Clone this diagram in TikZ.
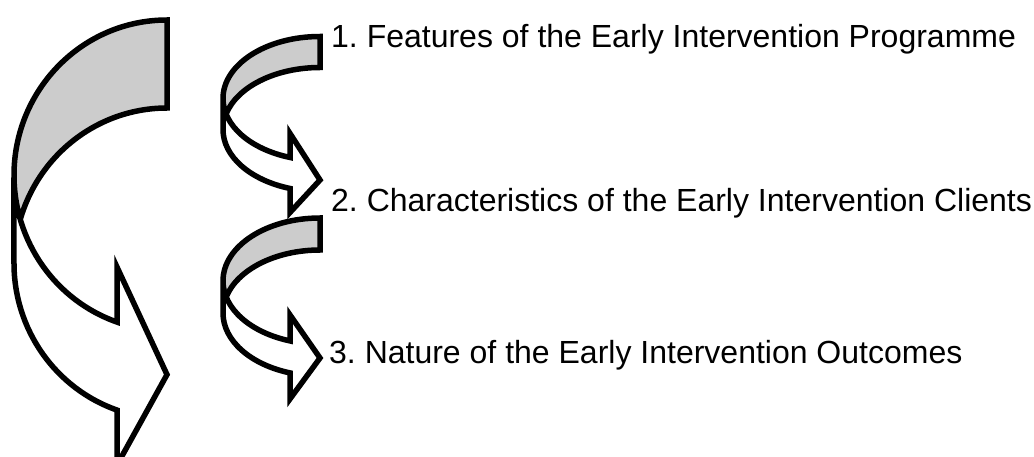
\documentclass[tikz,border=0pt]{standalone}
\usepackage{fontspec}
\setmainfont{Liberation Sans}
\frenchspacing
\definecolor{backgrey}{HTML}{CCCCCC}
% #1 right x, #2 top y (down), #3 width, #4 ellipse y radius, #5 shaft thickness,
% #6 head length, #7 barb overhang, #8 tip y (down)
\newcommand\curvarrow[8]{%
  \pgfmathsetmacro\caR{#1}%
  \pgfmathsetmacro\caW{#3}%
  \pgfmathsetmacro\caHR{#4}%
  \pgfmathsetmacro\caL{#1-#3}%
  \pgfmathsetmacro\caCYa{456-#2-#4}%
  \pgfmathsetmacro\caCYb{\caCYa-#5}%
  \pgfmathsetmacro\caTail{\caCYb+#4}%
  \pgfmathsetmacro\caPn{180+acos(#6/#3)}%
  \pgfmathsetmacro\caPc{asin(#5/(2*#4))}%
  \pgfmathsetmacro\caPcb{180-\caPc}%
  \pgfmathsetmacro\caPca{180+\caPc}%
  \pgfmathsetmacro\caXa{#1-#6}%
  \pgfmathsetmacro\caYfive{\caCYa+#4*sin(\caPn)}%
  \pgfmathsetmacro\caYseven{\caYfive-#5}%
  \pgfmathsetmacro\caYfour{\caYfive+#7}%
  \pgfmathsetmacro\caYeight{\caYseven-#7}%
  \pgfmathsetmacro\caYtip{456-#8}%
  \path[frontfill] (\caL,\caCYa)
    arc[start angle=180, end angle=\caPn, x radius=\caW, y radius=\caHR]
    -- (\caXa,\caYfour) -- (\caR,\caYtip) -- (\caXa,\caYeight) -- (\caXa,\caYseven)
    arc[start angle=\caPn, end angle=180, x radius=\caW, y radius=\caHR] -- cycle;
  \path[backfill] (\caR,\caTail)
    arc[start angle=90, end angle=\caPcb, x radius=\caW, y radius=\caHR]
    arc[start angle=\caPca, end angle=90, x radius=\caW, y radius=\caHR] -- cycle;
  \draw[arrowline] (\caL,\caCYa)
    arc[start angle=180, end angle=\caPn, x radius=\caW, y radius=\caHR]
    -- (\caXa,\caYfour) -- (\caR,\caYtip) -- (\caXa,\caYeight) -- (\caXa,\caYseven)
    arc[start angle=\caPn, end angle=180, x radius=\caW, y radius=\caHR]
    -- (\caL,\caCYa)
    arc[start angle=180, end angle=90, x radius=\caW, y radius=\caHR]
    -- (\caR,\caTail)
    arc[start angle=90, end angle=\caPcb, x radius=\caW, y radius=\caHR];
}
\begin{document}
\begin{tikzpicture}[x=1pt,y=1pt,
  frontfill/.style={fill=white},
  backfill/.style={fill=backgrey},
  arrowline/.style={draw=black, line width=5.5pt, line join=miter, miter limit=10},
  label/.style={anchor=base west, inner sep=0pt, font=\fontsize{32}{38}\selectfont}]
\useasboundingbox (0,0) rectangle (1034,456);
\clip (0,0) rectangle (1034,456);
\curvarrow{167}{20}{153}{155.3}{88}{50}{55}{374.6}
\curvarrow{320}{36.5}{97}{62}{31}{30}{24}{180}
\curvarrow{320}{218}{97}{63}{32}{30}{26}{358}
\node[label] (t1) at (331,{456-48}) {1. Features of the Early Intervention Programme};
\node[label] (t2) at (331,{456-212}) {2. Characteristics of the Early Intervention Clients};
\node[label] (t3) at (329,{456-363}) {3. Nature of the Early Intervention Outcomes};
\end{tikzpicture}
\end{document}
